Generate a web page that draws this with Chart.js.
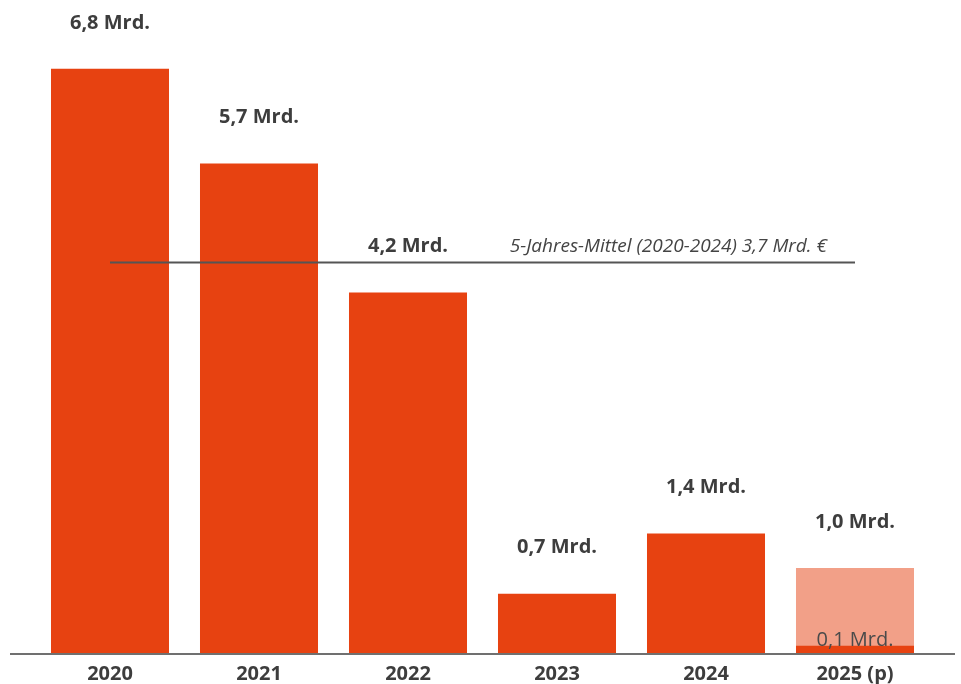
<!DOCTYPE html>
<html>
<head>
<meta charset="utf-8">
<script src="https://cdn.jsdelivr.net/npm/chart.js@4"></script>
<style>
  html, body { margin: 0; padding: 0; background: #ffffff; }
  #wrap { width: 961px; height: 684px; position: relative; }
</style>
</head>
<body>
<div id="wrap"><canvas id="c"></canvas></div>
<script>
// ---- data ----
const categories = ['2020', '2021', '2022', '2023', '2024', '2025 (p)'];
const confirmedValues = [6.8, 5.7, 4.2, 0.7, 1.4, 0.1];   // Mrd. € (solid part)
const plannedValues   = [0, 0, 0, 0, 0, 0.9];             // Mrd. € (light part, 2025 plan)
const meanLineLevel   = [4.55, 4.55, 4.55, 4.55, 4.55, 4.55]; // drawn level of the average line
const meanLabel = '5-Jahres-Mittel (2020-2024) 3,7 Mrd. €';

const fmt = v => v.toFixed(1).replace('.', ',') + ' Mrd.';

const labelPlugin = {
  id: 'labels',
  afterDatasetsDraw(chart) {
    const ctx = chart.ctx;
    const x = chart.scales.x, y = chart.scales.y;
    ctx.save();
    ctx.textAlign = 'center';
    ctx.textBaseline = 'middle';
    categories.forEach((c, i) => {
      const total = confirmedValues[i] + plannedValues[i];
      ctx.font = 'bold 20px "Open Sans"';
      ctx.fillStyle = '#3d3d3d';
      ctx.fillText(fmt(total), x.getPixelForValue(i), y.getPixelForValue(total) - 46);
      if (plannedValues[i] > 0) {
        ctx.font = '20px "Open Sans"';
        ctx.fillStyle = '#4a4a4a';
        ctx.fillText(fmt(confirmedValues[i]), x.getPixelForValue(i), y.getPixelForValue(confirmedValues[i]) - 5);
      }
    });
    // mean line caption
    ctx.font = 'italic 19px "Open Sans"';
    ctx.fillStyle = '#444444';
    ctx.textAlign = 'right';
    ctx.textBaseline = 'alphabetic';
    const last = categories.length - 1;
    ctx.fillText(meanLabel, x.getPixelForValue(last) - 28, y.getPixelForValue(meanLineLevel[last]) - 10);
    // baseline
    ctx.strokeStyle = '#707070';
    ctx.lineWidth = 2;
    ctx.beginPath();
    ctx.moveTo(10, y.getPixelForValue(0));
    ctx.lineTo(955, y.getPixelForValue(0));
    ctx.stroke();
    ctx.restore();
  }
};

new Chart(document.getElementById('c'), {
  type: 'bar',
  data: {
    labels: categories,
    datasets: [
      {
        type: 'line',
        label: 'Mittel',
        data: meanLineLevel,
        borderColor: '#555555',
        borderWidth: 2,
        pointRadius: 0,
        fill: false,
        stack: 'mean',
        order: 0
      },
      {
        label: 'Ist',
        data: confirmedValues,
        backgroundColor: '#e74211',
        stack: 'bars',
        order: 1,
        barPercentage: 0.792,
        categoryPercentage: 1
      },
      {
        label: 'Plan',
        data: plannedValues,
        backgroundColor: '#f2a088',
        stack: 'bars',
        order: 1,
        barPercentage: 0.792,
        categoryPercentage: 1
      }
    ]
  },
  options: {
    responsive: true,
    maintainAspectRatio: false,
    animation: false,
    layout: { padding: { left: 35.5, right: 31.5, top: 0, bottom: -10 } },
    plugins: { legend: { display: false }, tooltip: { enabled: false } },
    scales: {
      x: {
        stacked: true,
        grid: { display: false, drawTicks: false },
        border: { display: false },
        ticks: {
          padding: 8,
          color: '#3d3d3d',
          font: { family: 'Open Sans', weight: 'bold', size: 20 }
        }
      },
      y: {
        stacked: true,
        display: false,
        min: 0,
        max: 7.6
      }
    }
  },
  plugins: [labelPlugin]
});
</script>
</body>
</html>
